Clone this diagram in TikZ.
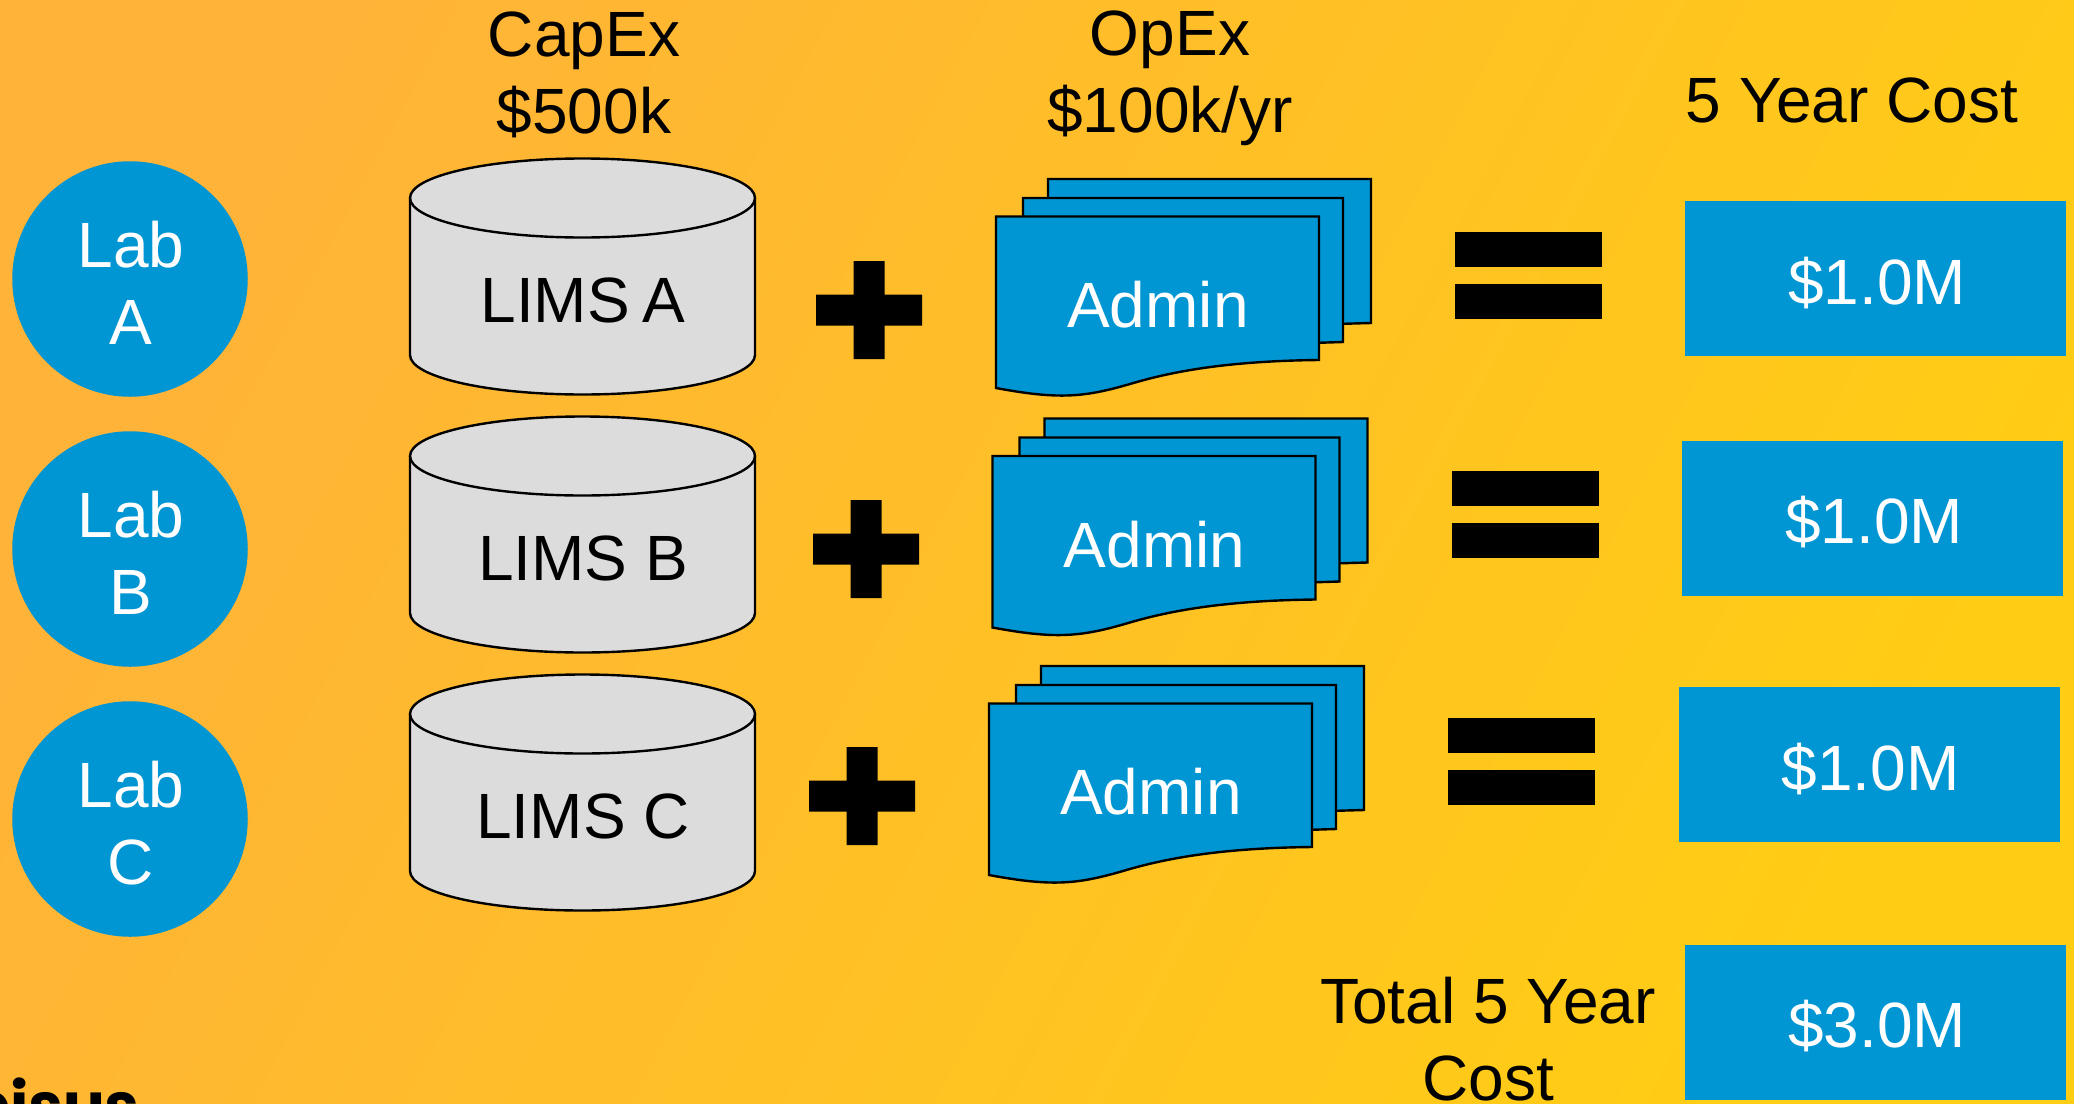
\documentclass[tikz,border=0pt]{standalone}
\usepackage{fontspec}
\setmainfont{Liberation Sans}
\newfontfamily\logofont{Poppins}
\usetikzlibrary{calc}
\definecolor{lbl}{HTML}{0095D3}
\definecolor{cyl}{HTML}{DCDCDC}
\definecolor{bgl}{HTML}{FFB338}
\definecolor{bgr}{HTML}{FFCD14}
\newcommand{\fs}{\fontsize{64pt}{77pt}\selectfont}
\tikzset{
 labc/.style={circle,fill=lbl,minimum size=235.5pt,inner sep=0pt},
 blubox/.style={fill=lbl,minimum width=381pt,minimum height=155pt,inner sep=0pt},
 head/.style={align=center,font=\fs,inner sep=0pt},
 txt/.style={font=\fs,inner sep=0pt},
 ln/.style={draw=black,line width=2.4pt},
 sym/.style={fill=black,draw=none},
}
\newcommand{\cylinder}[4]{% name, top y, x, label
  \path[ln,fill=cyl] (410,#2+40) -- (410,#2+197)
    arc[start angle=180,end angle=0,x radius=172.5,y radius=39.5]
    -- (755,#2+40) arc[start angle=0,end angle=-180,x radius=172.5,y radius=39.5] -- cycle;
  \path[ln] (410,#2+40) arc[start angle=180,end angle=0,x radius=172.5,y radius=39.5];
  \node[txt] (#1) at (#3,#2+142) {#4};
}
\newcommand{\docs}[3]{% name, dx, dy
  \begin{scope}[shift={(#2,#3)}]
   \path[ln,fill=lbl] (1048,179) -- (1371,179) -- (1371,323) -- (1300,325) -- (1048,340) -- cycle;
   \path[ln,fill=lbl] (1023,198) -- (1343,198) -- (1343,342) -- (1280,344) -- (1023,360) -- cycle;
   \path[ln,fill=lbl] (996,216.5) -- (1319,216.5) -- (1319,360)
     .. controls (1225,361) and (1170,372) .. (1130,384)
     .. controls (1085,397) and (1060,400) .. (996,388) -- cycle;
   \node[txt,text=white] (#1) at (1158,305) {Admin};
  \end{scope}
}
\newcommand{\plussign}[3]{% name, cx, cy
  \path[sym] (#2-53,#3-15.5) -- (#2-15.5,#3-15.5) -- (#2-15.5,#3-49) -- (#2+15.5,#3-49) -- (#2+15.5,#3-15.5) -- (#2+53,#3-15.5)
   -- (#2+53,#3+15.5) -- (#2+15.5,#3+15.5) -- (#2+15.5,#3+49) -- (#2-15.5,#3+49) -- (#2-15.5,#3+15.5) -- (#2-53,#3+15.5) -- cycle;
  \coordinate (#1) at (#2,#3);
}
\newcommand{\eqsign}[3]{% name, cx, cy
  \fill[sym] (#2-73.5,#3-43.5) rectangle (#2+73.5,#3-8.5);
  \fill[sym] (#2-73.5,#3+8.5) rectangle (#2+73.5,#3+43.5);
  \coordinate (#1) at (#2,#3);
}
\begin{document}
\begin{tikzpicture}[x=1pt,y=-1pt]
\useasboundingbox (0,0) rectangle (2074,1103);
\shade[bottom color=bgr,top color=bgl,shading angle=62] (-2,-2) rectangle (2076,1105);
\node[font=\logofont\bfseries\fontsize{62pt}{62pt}\selectfont,anchor=base west,inner sep=0pt] (logo) at (-32,1127) {pisus};
\node[labc] (la) at (130,279) {};
\node[labc] (lb) at (130,549) {};
\node[labc] (lc) at (130,819) {};
\node[head,text=white] (lat) at (131,283) {Lab\\A};
\node[head,text=white] (lbt) at (131,553) {Lab\\B};
\node[head,text=white] (lct) at (131,823) {Lab\\C};
\node[head] (capex) at (584,75) {CapEx\\\$500k};
\node[head] (opex) at (1170,78) {OpEx\\\$100k/yr};
\node[head] (yc) at (1852,100) {5 Year Cost};
\cylinder{ca}{158}{583}{LIMS\kern-5pt\ A}
\cylinder{cb}{416}{583}{LIMS B}
\cylinder{cc}{674}{583}{LIMS C}
\docs{da}{0}{0}
\docs{db}{-3.5}{239.5}
\docs{dc}{-7}{487}
\plussign{pa}{869}{310}
\plussign{pb}{866}{549}
\plussign{pc}{862}{796}
\eqsign{ea}{1528.5}{275.5}
\eqsign{eb}{1525}{514.5}
\eqsign{ec}{1521.5}{761.5}
\node[blubox] (ba) at (1875.5,278.5) {};
\node[blubox] (bb) at (1872.5,518) {};
\node[blubox] (bc) at (1869,764.5) {};
\node[blubox] (bt) at (1875.5,1022) {};
\node[txt,text=white] (ta) at (1877,283) {\$1.0M};
\node[txt,text=white] (tb) at (1874,522) {\$1.0M};
\node[txt,text=white] (tc) at (1870.5,769) {\$1.0M};
\node[txt,text=white] (tt) at (1877,1026) {\$3.0M};
\node[head] (tot) at (1488,1039) {Total 5 Year\\Cost};
\end{tikzpicture}
\end{document}
